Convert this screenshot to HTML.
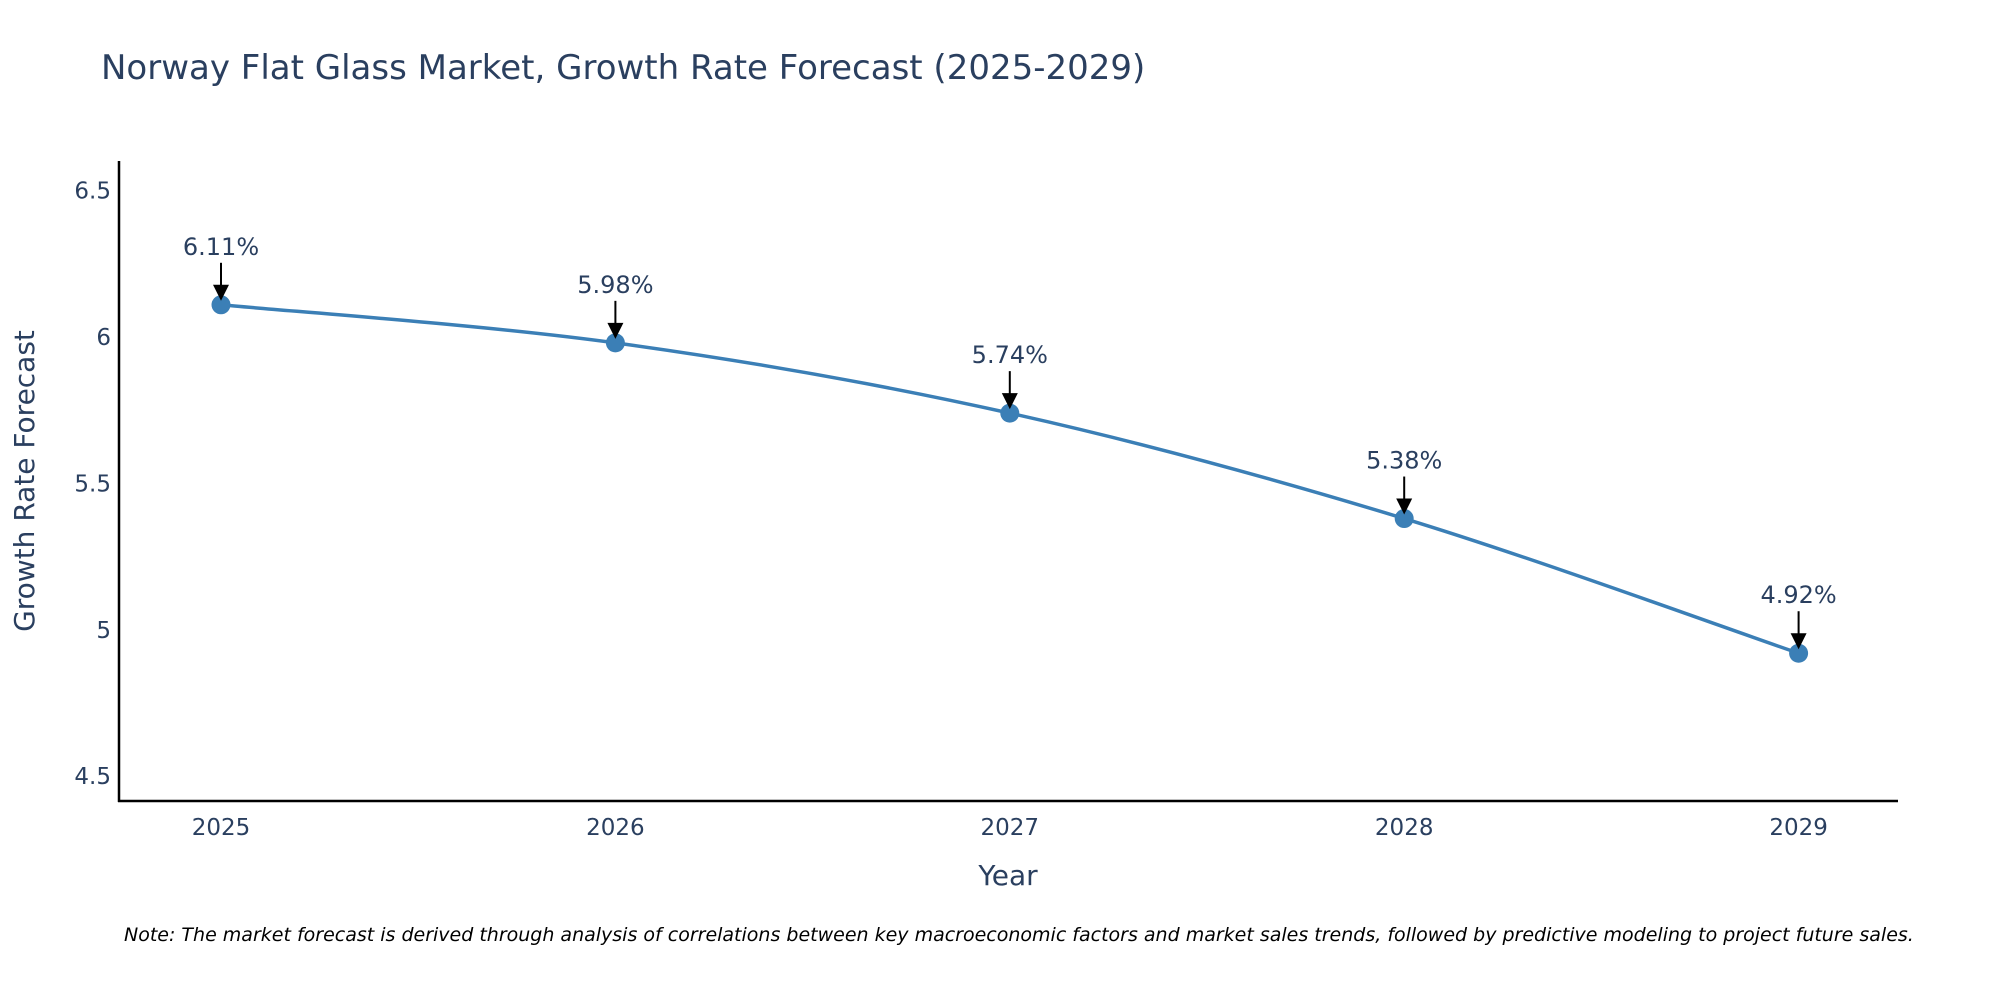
<!DOCTYPE html>
<html><head><meta charset="utf-8"><style>
html,body{margin:0;padding:0;background:#fff;overflow:hidden;}
svg{display:block;font-family:"DejaVu Sans","Liberation Sans",sans-serif;}
</style></head><body>
<svg id="chart" width="2000" height="1000" viewBox="0 0 2000 1000">
<text x="101" y="79" font-size="34" fill="#2a3f5f">Norway Flat Glass Market, Growth Rate Forecast (2025-2029)</text>
<g id="yticks"></g>
<g id="xticks"></g>
<line x1="119" y1="161" x2="119" y2="802" stroke="#000" stroke-width="2.5"/>
<line x1="118" y1="801" x2="1898" y2="801" stroke="#000" stroke-width="2.5"/>
<path id="line" fill="none" stroke="#3b7fb6" stroke-width="3.5"/>
<g id="points"></g>
<text x="1008" y="885" font-size="28" fill="#2a3f5f" text-anchor="middle">Year</text>
<text transform="translate(34,481) rotate(-90)" font-size="28" fill="#2a3f5f" text-anchor="middle">Growth Rate Forecast</text>
<text x="124" y="941" font-size="19" font-style="italic" fill="#000">Note: The market forecast is derived through analysis of correlations between key macroeconomic factors and market sales trends, followed by predictive modeling to project future sales.</text>
</svg>
<script>
const years = ["2025","2026","2027","2028","2029"];
const values = [6.11, 5.98, 5.74, 5.38, 4.92];
const yTickValues = [4.5, 5, 5.5, 6, 6.5];
const yTickLabels = ["4.5","5","5.5","6","6.5"];
const NS="http://www.w3.org/2000/svg";
function xPos(i){return 221 + i*394.4;}
function yPos(v){return 337 + (6 - v)*292.8;}
const yt=document.getElementById('yticks');
yTickValues.forEach((v,i)=>{
  const t=document.createElementNS(NS,'text');
  
  
  t.setAttribute('x',111);t.setAttribute('y',yPos(v)+8);
  t.setAttribute('text-anchor','end');t.setAttribute('font-size','23');t.setAttribute('fill','#2a3f5f');
  t.textContent=yTickLabels[i];yt.appendChild(t);
});
const xt=document.getElementById('xticks');
years.forEach((y,i)=>{
  const t=document.createElementNS(NS,'text');
  
  
  t.setAttribute('x',xPos(i));t.setAttribute('y',835);
  t.setAttribute('text-anchor','middle');t.setAttribute('font-size','23');t.setAttribute('fill','#2a3f5f');
  t.textContent=y;xt.appendChild(t);
});
const P=values.map((v,i)=>[xPos(i),yPos(v)]);
let d=`M${P[0][0]},${P[0][1]}`;
for(let i=0;i<P.length-1;i++){
  const p0=P[Math.max(i-1,0)],p1=P[i],p2=P[i+1],p3=P[Math.min(i+2,P.length-1)];
  const c1=[p1[0]+(p2[0]-p0[0])/6,p1[1]+(p2[1]-p0[1])/6];
  const c2=[p2[0]-(p3[0]-p1[0])/6,p2[1]-(p3[1]-p1[1])/6];
  d+=` C${c1[0]},${c1[1]} ${c2[0]},${c2[1]} ${p2[0]},${p2[1]}`;
}
document.getElementById('line').setAttribute('d',d);
const pts=document.getElementById('points');
P.forEach((p,i)=>{
  const c=document.createElementNS(NS,'circle');
  
  
  c.setAttribute('cx',p[0]);c.setAttribute('cy',p[1]);c.setAttribute('r',9.5);c.setAttribute('fill','#3b7fb6');
  pts.appendChild(c);
  const l=document.createElementNS(NS,'line');
  
  
  l.setAttribute('x1',p[0]);l.setAttribute('y1',p[1]-42);l.setAttribute('x2',p[0]);l.setAttribute('y2',p[1]-16);
  l.setAttribute('stroke','#000');l.setAttribute('stroke-width','2');
  pts.appendChild(l);
  const a=document.createElementNS(NS,'polygon');
  
  
  a.setAttribute('points',`${p[0]-8},${p[1]-20} ${p[0]+8},${p[1]-20} ${p[0]},${p[1]-4}`);
  a.setAttribute('fill','#000');
  pts.appendChild(a);
  const t=document.createElementNS(NS,'text');
  
  
  t.setAttribute('x',p[0]);t.setAttribute('y',p[1]-50);
  t.setAttribute('text-anchor','middle');t.setAttribute('font-size','24');t.setAttribute('fill','#2a3f5f');
  t.textContent=values[i].toFixed(2)+'%';
  pts.appendChild(t);
});
</script>
</body></html>
